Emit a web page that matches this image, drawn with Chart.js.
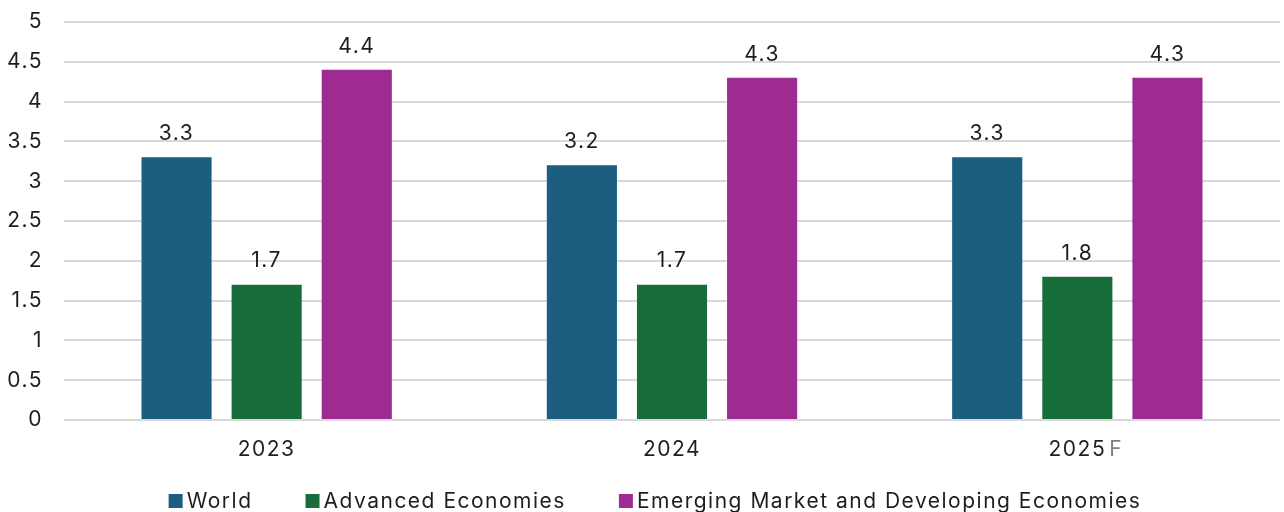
<!DOCTYPE html>
<html>
<head>
<meta charset="utf-8">
<script src="https://cdn.jsdelivr.net/npm/chart.js@4.4.1/dist/chart.umd.min.js"></script>
<style>
  html, body { margin: 0; padding: 0; background: #fff; }
  #wrap { position: relative; width: 1284px; height: 512px; }
</style>
</head>
<body>
<div id="wrap"><canvas id="growth"></canvas></div>
<script>
// real GDP growth, %
const years = ['2023', '2024', '2025F'];
const world = [3.3, 3.2, 3.3];
const advanced = [1.7, 1.7, 1.8];
const emerging = [4.4, 4.3, 4.3];
const seriesNames = ['World', 'Advanced Economies', 'Emerging Market and Developing Economies'];
const seriesColors = ['#1b5e80', '#186e3a', '#9e2b91'];

const FONT = "Inter, 'Noto Sans', sans-serif";
const SIZE = 21;
const TRACK = '1.5px';
const TEXT = '#1e1e1e';
const X_PAD = 17;

// wider tracking for every bit of text on the canvas
const tracking = {
  id: 'tracking',
  beforeLayout(chart) { chart.ctx.letterSpacing = TRACK; },
  beforeDraw(chart) { chart.ctx.letterSpacing = TRACK; }
};

// value above each bar
const barValues = {
  id: 'barValues',
  afterDatasetsDraw(chart) {
    const ctx = chart.ctx;
    ctx.save();
    ctx.font = SIZE + 'px ' + FONT;
    ctx.fillStyle = TEXT;
    ctx.textAlign = 'center';
    ctx.textBaseline = 'bottom';
    chart.data.datasets.forEach((ds, i) => {
      chart.getDatasetMeta(i).data.forEach((bar, j) => {
        ctx.fillText(ds.data[j].toFixed(1), bar.x, bar.y - 13);
      });
    });
    ctx.restore();
  }
};

// forecast suffix on the x labels, drawn grey after the year
const forecastMark = {
  id: 'forecastMark',
  afterDraw(chart) {
    const x = chart.scales.x;
    const ctx = chart.ctx;
    ctx.save();
    ctx.font = SIZE + 'px ' + FONT;
    ctx.textBaseline = 'middle';
    ctx.textAlign = 'left';
    ctx.fillStyle = '#808080';
    years.forEach((y, i) => {
      if (!y.endsWith('F')) return;
      const w = ctx.measureText(y.slice(0, -1)).width;
      const cx = x.getPixelForValue(i);
      ctx.fillText('F', cx + w / 2 + 3, x.top + X_PAD + SIZE * 1.2 / 2);
    });
    ctx.restore();
  }
};

// legend row along the bottom edge
const bottomLegend = {
  id: 'bottomLegend',
  afterDraw(chart) {
    const ctx = chart.ctx;
    ctx.save();
    ctx.font = SIZE + 'px ' + FONT;
    ctx.textBaseline = 'middle';
    ctx.textAlign = 'left';
    const box = 14, gap = 4, spacing = 53, y = 501;
    const widths = seriesNames.map(n => box + gap + ctx.measureText(n).width);
    const total = widths.reduce((a, b) => a + b, 0) + spacing * (seriesNames.length - 1);
    let x = (chart.width - total) / 2 + 13;
    seriesNames.forEach((n, i) => {
      ctx.fillStyle = seriesColors[i];
      ctx.fillRect(x, y - box / 2, box, box);
      ctx.fillStyle = TEXT;
      ctx.fillText(n, x + box + gap, y + 1);
      x += widths[i] + spacing;
    });
    ctx.restore();
  }
};

const seriesData = [world, advanced, emerging];

new Chart(document.getElementById('growth'), {
  type: 'bar',
  data: {
    labels: years,
    datasets: seriesNames.map((name, i) => ({
      label: name,
      data: seriesData[i],
      backgroundColor: seriesColors[i],
      borderWidth: 0,
      categoryPercentage: 0.667,
      barPercentage: 0.778
    }))
  },
  options: {
    responsive: true,
    maintainAspectRatio: false,
    animation: false,
    layout: { padding: { top: 22, right: 4, bottom: 0, left: 0 } },
    plugins: {
      legend: { display: false },
      tooltip: { enabled: false }
    },
    scales: {
      x: {
        grid: { display: false, drawTicks: false },
        border: { display: false },
        ticks: {
          padding: X_PAD,
          color: TEXT,
          font: { family: FONT, size: SIZE },
          callback: function (v) { return years[v].replace(/F$/, ''); }
        },
        afterFit(scale) { scale.height = 92; }
      },
      y: {
        min: 0,
        max: 5,
        grid: { color: '#d9d9d9', lineWidth: 2, drawTicks: false },
        border: { display: false },
        ticks: {
          stepSize: 0.5,
          padding: 21,
          color: TEXT,
          font: { family: FONT, size: SIZE },
          callback: v => String(v)
        },
        afterFit(scale) {
          scale.width = 64;
          scale.paddingTop = 0;
          scale.paddingBottom = 0;
        }
      }
    }
  },
  plugins: [tracking, barValues, forecastMark, bottomLegend]
});
</script>
</body>
</html>
